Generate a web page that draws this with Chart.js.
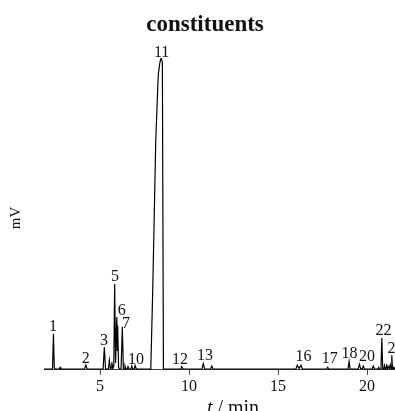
<!DOCTYPE html>
<html>
<head>
<meta charset="utf-8">
<script src="https://cdn.jsdelivr.net/npm/chart.js@4"></script>
<style>
  body { margin: 0; background: #fff; }
  #wrap { width: 395px; height: 411px; }
</style>
</head>
<body>
<div id="wrap"><canvas id="myChart"></canvas></div>
<script>
// retention time (min) and detector signal (arbitrary mV units) of the trace
var traceT = [1.85, 2.28, 2.33, 2.38, 2.43, 2.5, 2.7, 2.75, 2.8, 4.12, 4.2, 4.28,
  5.17, 5.24, 5.31, 5.47, 5.52, 5.58, 5.62, 5.66, 5.72, 5.77, 5.82, 5.87, 5.94, 5.97, 5.99, 6.04, 6.1,
  6.18, 6.25, 6.31, 6.36, 6.4, 6.45, 6.52, 6.57, 6.63, 6.73, 6.78, 6.84, 6.92, 6.97, 7.04,
  7.85, 7.96, 8.13, 8.25, 8.28, 8.36, 8.43, 8.5, 8.56,
  9.52, 9.59, 9.66, 10.72, 10.8, 10.88, 11.2, 11.28, 11.35,
  16.0, 16.08, 16.18, 16.29, 16.37, 17.73, 17.79, 17.85,
  18.93, 18.99, 19.05, 19.5, 19.57, 19.64, 19.72, 19.79, 19.86, 20.28, 20.35, 20.42,
  20.6, 20.65, 20.7, 20.78, 20.83, 20.88, 20.94, 20.98, 21.03, 21.07, 21.1, 21.14, 21.2, 21.25, 21.3,
  21.35, 21.39, 21.43, 21.5, 21.57];
var traceV = [0, 0, 3, 114, 3, 0, 0, 6, 0, 0, 13, 0,
  0, 70, 0, 0, 29, 2, 4, 22, 2, 10, 274, 20, 168, 60, 140, 5, 0,
  0, 136, 2, 0, 10, 0, 0, 8, 0, 0, 10, 0, 0, 12, 0,
  0, 258, 737, 919, 951, 985, 1000, 986, 0,
  0, 8, 0, 0, 18, 0, 0, 10, 0,
  0, 13, 2, 13, 0, 0, 6, 0,
  0, 25, 0, 0, 16, 2, 0, 10, 0, 0, 10, 0,
  0, 6, 0, 0, 100, 0, 0, 12, 0, 4, 16, 0, 8, 2, 14,
  0, 45, 0, 6, 0];

// peak numbers, placed at (time, signal) just above each peak
var peakLabels = ['1', '2', '3', '5', '6', '7', '10', '11', '12', '13', '16', '17', '18', '20', '22', '23'];
var peakLabelT = [2.36, 4.2, 5.22, 5.84, 6.22, 6.46, 7.02, 8.46, 9.49, 10.9, 16.43, 17.9, 19.02, 20.0, 20.92, 21.6];
var peakLabelV = [120, 18, 76, 280, 172, 130, 15, 1002, 15, 28, 24, 18, 34, 24, 107, 50];

var tickValues = [5, 10, 15, 20];

var serif = '"Liberation Serif", "DejaVu Serif", serif';

var points = traceT.map(function (t, i) { return {x: t, y: traceV[i]}; });

var annotate = {
  id: 'annotate',
  afterDraw: function (chart) {
    var ctx = chart.ctx;
    var xs = chart.scales.x, ys = chart.scales.y;
    ctx.save();
    ctx.fillStyle = '#111';
    // title
    ctx.font = 'bold 23px ' + serif;
    ctx.textAlign = 'center';
    ctx.textBaseline = 'alphabetic';
    ctx.fillText('constituents', 205, 31);
    // peak numbers
    ctx.font = '16px ' + serif;
    ctx.textBaseline = 'bottom';
    for (var i = 0; i < peakLabels.length; i++) {
      ctx.fillText(peakLabels[i], xs.getPixelForValue(peakLabelT[i]), ys.getPixelForValue(peakLabelV[i]) + 3);
    }
    // y axis title
    ctx.save();
    ctx.translate(16, 218);
    ctx.rotate(-Math.PI / 2);
    ctx.textBaseline = 'middle';
    ctx.font = '15px ' + serif;
    ctx.fillText('mV', 0, 0);
    ctx.restore();
    // x axis title, italic t
    ctx.font = 'italic 20px ' + serif;
    var w1 = ctx.measureText('t').width;
    ctx.font = '20px ' + serif;
    var w2 = ctx.measureText(' / min').width;
    var x0 = 233 - (w1 + w2) / 2;
    ctx.textAlign = 'left';
    ctx.textBaseline = 'alphabetic';
    ctx.font = 'italic 20px ' + serif;
    ctx.fillText('t', x0, 414);
    ctx.font = '20px ' + serif;
    ctx.fillText(' / min', x0 + w1, 414);
    ctx.restore();
  }
};

new Chart('myChart', {
  type: 'scatter',
  data: {
    datasets: [{
      data: points,
      showLine: true,
      borderColor: '#000',
      borderWidth: 1.2,
      pointRadius: 0,
      tension: 0
    }]
  },
  options: {
    responsive: true,
    maintainAspectRatio: false,
    animation: false,
    layout: {padding: {left: 44, right: 0, top: 58, bottom: 13}},
    plugins: {
      legend: {display: false},
      tooltip: {enabled: false},
      title: {display: false}
    },
    scales: {
      x: {
        type: 'linear',
        min: 1.85,
        max: 21.57,
        afterBuildTicks: function (axis) {
          axis.ticks = tickValues.map(function (v) { return {value: v}; });
        },
        grid: {drawOnChartArea: false, drawTicks: true, tickLength: 5, color: '#444'},
        border: {display: true, color: '#444', width: 1},
        ticks: {color: '#111', padding: 2, maxRotation: 0, font: {family: serif, size: 16}}
      },
      y: {
        display: false,
        min: -2,
        max: 1000
      }
    }
  },
  plugins: [annotate]
});
</script>
</body>
</html>
